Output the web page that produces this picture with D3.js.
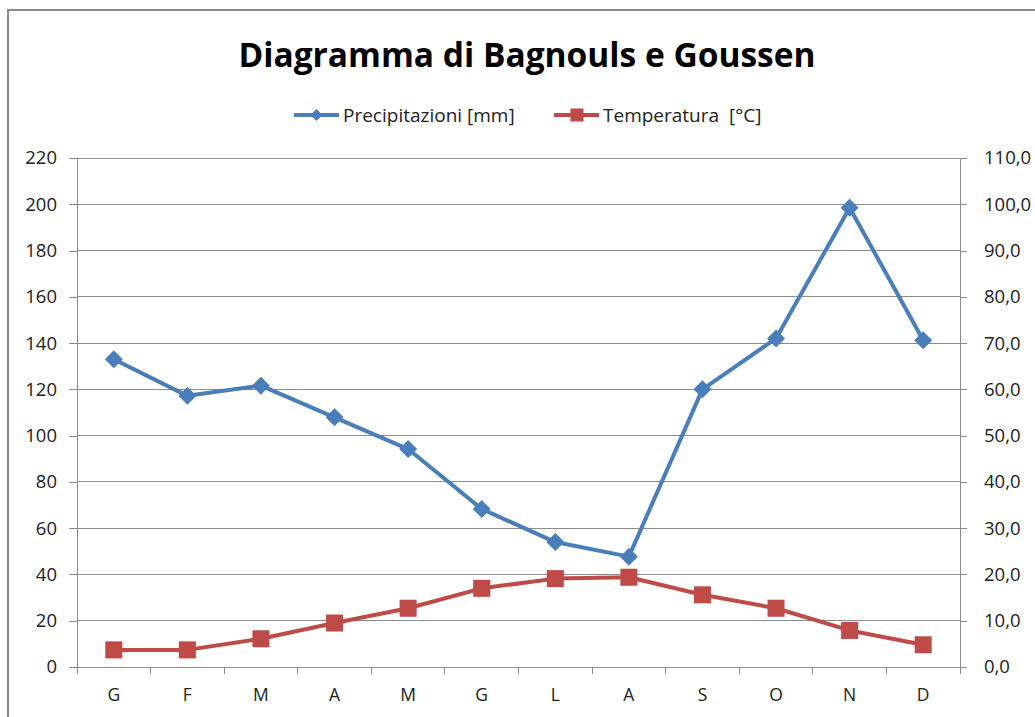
<!DOCTYPE html>
<html>
<head>
<meta charset="utf-8">
<script src="https://cdn.jsdelivr.net/npm/d3@7"></script>
<style>
  body { margin: 0; background: #fff; }
  svg { display: block; }
</style>
</head>
<body>
<div id="container"></div>
<script>
// Data
const months = ["G", "F", "M", "A", "M", "G", "L", "A", "S", "O", "N", "D"];
const precipitazioni = [133, 117.2, 121.6, 107.9, 94.2, 68.3, 54, 47.7, 120, 142, 198.5, 141.2];
const temperatura = [3.7, 3.7, 6.1, 9.5, 12.7, 17.0, 19.1, 19.4, 15.6, 12.7, 7.9, 4.8];
const leftTicks = [0, 20, 40, 60, 80, 100, 120, 140, 160, 180, 200, 220];
const rightTicks = [0, 10, 20, 30, 40, 50, 60, 70, 80, 90, 100, 110];

const width = 1035;
const height = 717;
const margin = { top: 158, right: 75, bottom: 50, left: 77 };
const font = "'Open Sans', 'Liberation Sans', sans-serif";
const blue = "#4a7ebb";
const red = "#be4b48";
const gridColor = "#8c8c8c";

const svg = d3.create("svg")
  .attr("width", width)
  .attr("height", height)
  .attr("viewBox", [0, 0, width, height]);

// outer chart border (cut off at right and bottom like the reference)
svg.append("rect")
  .attr("x", 8).attr("y", 10)
  .attr("width", 1100).attr("height", 800)
  .attr("fill", "none")
  .attr("stroke", "#8a8a8a")
  .attr("stroke-width", 2);

const x = d3.scaleBand()
  .domain(d3.range(months.length))
  .range([margin.left, width - margin.right])
  .padding(0);

const y = d3.scaleLinear().domain([0, 220]).range([height - margin.bottom, margin.top]);
const y2 = d3.scaleLinear().domain([0, 110]).range([height - margin.bottom, margin.top]);

// gridlines
svg.append("g")
  .selectAll("line")
  .data(leftTicks.slice(1))
  .join("line")
  .attr("x1", margin.left).attr("x2", width - margin.right)
  .attr("y1", d => y(d)).attr("y2", d => y(d))
  .attr("stroke", gridColor)
  .attr("stroke-width", 1)
  .attr("shape-rendering", "crispEdges");

// left axis
const yAxis = svg.append("g")
  .attr("transform", `translate(${margin.left},0)`)
  .call(d3.axisLeft(y).tickValues(leftTicks).tickSize(8).tickPadding(12));

// right axis
const yAxis2 = svg.append("g")
  .attr("transform", `translate(${width - margin.right},0)`)
  .call(d3.axisRight(y2).tickValues(rightTicks).tickSize(7).tickPadding(17)
    .tickFormat(d => d3.format(".1f")(d).replace(".", ",")));

// x axis
const xAxis = svg.append("g")
  .attr("transform", `translate(0,${height - margin.bottom})`)
  .call(d3.axisBottom(x).tickFormat(i => months[i]).tickSize(0).tickPadding(22));

// boundary ticks for the category axis
xAxis.append("g")
  .selectAll("line")
  .data(d3.range(months.length + 1))
  .join("line")
  .attr("x1", i => margin.left + i * x.step())
  .attr("x2", i => margin.left + i * x.step())
  .attr("y1", 0).attr("y2", 7)
  .attr("stroke", gridColor)
  .attr("shape-rendering", "crispEdges");

[yAxis, yAxis2, xAxis].forEach(g => {
  g.selectAll(".domain").attr("stroke", gridColor).attr("shape-rendering", "crispEdges");
  g.selectAll(".tick line").attr("stroke", gridColor).attr("shape-rendering", "crispEdges");
  g.selectAll("text")
    .attr("fill", "#222")
    .style("font-family", font)
    .style("font-size", "18.5px");
});
xAxis.selectAll("text").style("font-size", "17.5px");

const cx = i => x(i) + x.bandwidth() / 2;

// precipitation line
svg.append("path")
  .datum(precipitazioni)
  .attr("fill", "none")
  .attr("stroke", blue)
  .attr("stroke-width", 4)
  .attr("stroke-linejoin", "round")
  .attr("d", d3.line().x((d, i) => cx(i)).y(d => y(d)));

svg.append("g")
  .selectAll("path")
  .data(precipitazioni)
  .join("path")
  .attr("transform", (d, i) => `translate(${cx(i)},${y(d)})`)
  .attr("d", "M0,-9L9,0L0,9L-9,0Z")
  .attr("fill", blue);

// temperature line
svg.append("path")
  .datum(temperatura)
  .attr("fill", "none")
  .attr("stroke", red)
  .attr("stroke-width", 4)
  .attr("stroke-linejoin", "round")
  .attr("d", d3.line().x((d, i) => cx(i)).y(d => y2(d)));

svg.append("g")
  .selectAll("rect")
  .data(temperatura)
  .join("rect")
  .attr("x", (d, i) => cx(i) - 8.5)
  .attr("y", d => y2(d) - 8.5)
  .attr("width", 17).attr("height", 17)
  .attr("fill", red);

// title
svg.append("text")
  .attr("x", 527).attr("y", 67)
  .attr("text-anchor", "middle")
  .style("font-family", font)
  .style("font-weight", "bold")
  .style("font-size", "33.5px")
  .attr("fill", "#000")
  .text("Diagramma di Bagnouls e Goussen");

// legend
const legendItems = [
  { label: "Precipitazioni [mm]", color: blue, shape: "diamond", x: 294 },
  { label: "Temperatura  [°C]", color: red, shape: "square", x: 554 }
];
const legend = svg.append("g").attr("transform", "translate(0,115)");
legendItems.forEach(it => {
  const g = legend.append("g").attr("transform", `translate(${it.x},0)`);
  g.append("line").attr("x1", 0).attr("x2", 45).attr("stroke", it.color).attr("stroke-width", 4);
  if (it.shape === "diamond") {
    g.append("path").attr("d", "M22.5,-6L28.5,0L22.5,6L16.5,0Z").attr("fill", it.color);
  } else {
    g.append("rect").attr("x", 16.5).attr("y", -6.5).attr("width", 13).attr("height", 13).attr("fill", it.color);
  }
  g.append("text")
    .attr("x", 49).attr("dy", "0.35em")
    .style("font-family", font)
    .style("font-size", "19px")
    .style("white-space", "pre")
    .attr("fill", "#222")
    .text(it.label);
});

document.getElementById("container").append(svg.node());
</script>
</body>
</html>
